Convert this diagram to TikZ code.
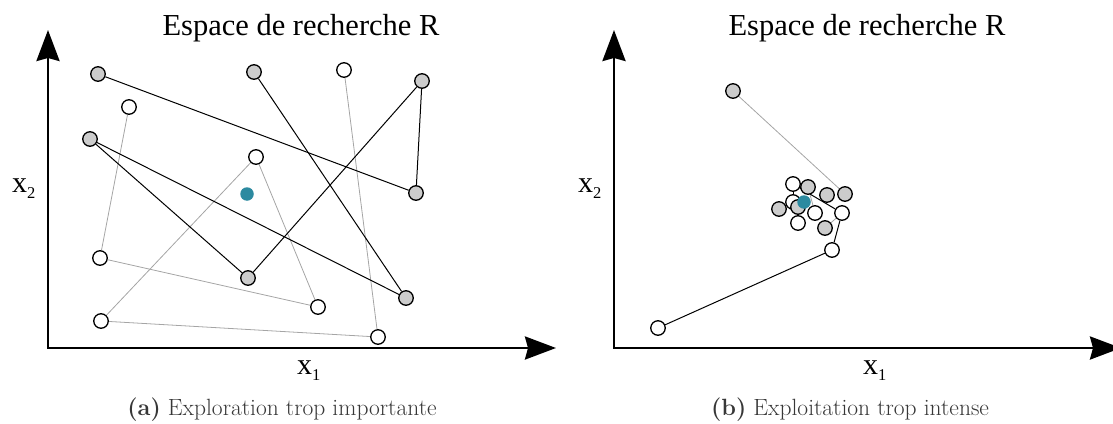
\documentclass[tikz,border=0pt]{standalone}
\usepackage{fontspec}
\newfontfamily\libserif{Liberation Serif}
\usetikzlibrary{arrows.meta,backgrounds}
\definecolor{nodegray}{RGB}{204,204,204}
\definecolor{tealdot}{RGB}{44,138,160}
\definecolor{capgray}{RGB}{55,55,55}
\definecolor{lightline}{RGB}{165,165,165}
\tikzset{
  pt/.style={circle, draw=black, line width=1.3pt, minimum size=14.5pt, inner sep=0pt},
  gpt/.style={pt, fill=nodegray},
  wpt/.style={pt, fill=white},
  opt/.style={circle, fill=tealdot, minimum size=13.5pt, inner sep=0pt, draw=none},
  blk/.style={draw=black, line width=1pt},
  lgt/.style={draw=lightline, line width=0.8pt},
  axisline/.style={line width=2.8pt, line join=miter,
     {Stealth[length=31pt,width=23pt,inset=3pt]}-{Stealth[length=31pt,width=23pt,inset=3pt]}},
  titletext/.style={anchor=base, inner sep=0pt, font=\libserif\fontsize{30.5}{34}\selectfont},
  axlabel/.style={anchor=base west, inner sep=0pt, font=\libserif\fontsize{30}{33}\selectfont},
  captext/.style={anchor=base, inner sep=0pt, text=capgray, font=\fontsize{23.5}{26}\selectfont},
}
\newcommand{\subx}[1]{x\raisebox{-6pt}{\fontsize{16.5}{17}\selectfont #1}}
\begin{document}
\begin{tikzpicture}[x=1pt,y=-1pt]
\useasboundingbox (0,0) rectangle (1113,423);

% ---------------- panel (a) ----------------
\coordinate (aY) at (48,30);
\coordinate (aO) at (48,348);
\coordinate (aX) at (556,348);
\draw[axisline] (aY) -- (aO) -- (aX);

\node[titletext] (atitle) at (301,35) {Espace de recherche R};
\node[axlabel] (ax2) at (12,192) {\subx{2}};
\node[axlabel] (ax1) at (297,374) {\subx{1}};
\node[captext] (acap) at (282,415) {\textbf{(a)} Exploration trop importante};

\node[gpt] (aG1) at (98,74) {};
\node[gpt] (aG2) at (254,72) {};
\node[gpt] (aG3) at (422,81) {};
\node[gpt] (aG4) at (90,139) {};
\node[gpt] (aG5) at (416,193) {};
\node[gpt] (aG6) at (248,278) {};
\node[gpt] (aG7) at (406,298) {};
\node[wpt] (aW1) at (344,70) {};
\node[wpt] (aW2) at (129,107) {};
\node[wpt] (aW3) at (256,157) {};
\node[wpt] (aW4) at (100,258) {};
\node[wpt] (aW5) at (318,307) {};
\node[wpt] (aW6) at (101,321) {};
\node[wpt] (aW7) at (378,337) {};
\node[opt] (aT) at (247,194) {};

\begin{scope}[on background layer]
\draw[lgt] (aW1) -- (aW7);
\draw[lgt] (aW2) -- (aW4);
\draw[lgt] (aW3) -- (aW6);
\draw[lgt] (aW3) -- (aW5);
\draw[lgt] (aW4) -- (aW5);
\draw[lgt] (aW6) -- (aW7);
\draw[blk] (aG1) -- (aG5);
\draw[blk] (aG2) -- (aG7);
\draw[blk] (aG3) -- (aG5);
\draw[blk] (aG3) -- (aG6);
\draw[blk] (aG4) -- (aG6);
\draw[blk] (aG4) -- (aG7);
\end{scope}

% ---------------- panel (b) ----------------
\coordinate (bY) at (614,30);
\coordinate (bO) at (614,348);
\coordinate (bX) at (1121,348);
\draw[axisline] (bY) -- (bO) -- (bX);

\node[titletext] (btitle) at (867,35) {Espace de recherche R};
\node[axlabel] (bx2) at (578,192) {\subx{2}};
\node[axlabel] (bx1) at (863,374) {\subx{1}};
\node[captext] (bcap) at (850,415) {\textbf{(b)} Exploitation trop intense};

\node[gpt] (bG1) at (733,91) {};
\node[wpt] (bW1) at (658,328) {};
\node[wpt] (bW2) at (832,250) {};
\node[wpt] (bW3) at (842,213) {};
\node[gpt] (bG2) at (845,194) {};
\node[gpt] (bG3) at (827,195) {};
\node[wpt] (bW4) at (793,184) {};
\node[gpt] (bG4) at (808,187) {};
\node[wpt] (bW5) at (793,202) {};
\node[gpt] (bG5) at (779,209) {};
\node[gpt] (bG6) at (798,207) {};
\node[wpt] (bW6) at (815,213) {};
\node[wpt] (bW7) at (798,223) {};
\node[gpt] (bG7) at (825,228) {};
\node[opt] (bT) at (804,202) {};

\begin{scope}[on background layer]
\draw[lgt] (bG1) -- (bG2);
\draw[lgt] (bW3) -- (bG7);
\draw[lgt] (bG4) -- (bW6);
\draw[blk] (bW1) -- (bW2);
\draw[blk] (bW2) -- (bW3);
\draw[blk] (bW3) -- (bW4);
\draw[blk] (bW4) -- (bW5);
\end{scope}
\end{tikzpicture}
\end{document}
